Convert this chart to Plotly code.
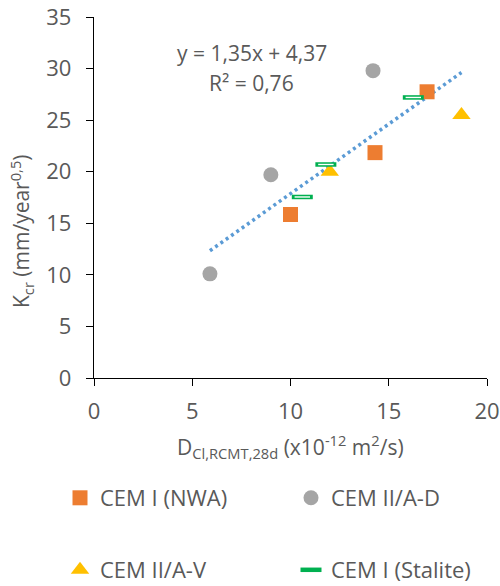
import plotly.graph_objects as go

# Data
nwa_x = [10.0, 14.3, 16.95]
nwa_y = [15.85, 21.85, 27.75]
ad_x = [5.9, 9.0, 14.2]
ad_y = [10.1, 19.7, 29.8]
av_x = [12.0, 18.7]
av_y = [20.0, 25.5]
st_x = [10.6, 11.8, 16.25]
st_y = [17.55, 20.7, 27.2]

trend_slope = 1.35
trend_intercept = 4.37
eq_text = "y = 1,35x + 4,37"
r2_text = "R² = 0,76"

x_ticks = [0, 5, 10, 15, 20]
y_ticks = [0, 5, 10, 15, 20, 25, 30, 35]

FONT = "Open Sans"
TXT = "#595959"
FS = 21
FS_TICK = 22
FS_LEG = 22

all_x = nwa_x + ad_x + av_x + st_x
tx = [min(all_x), max(all_x)]
ty = [trend_slope * v + trend_intercept for v in tx]

fig = go.Figure()

fig.add_trace(go.Scatter(x=tx, y=ty, mode="lines", showlegend=False,
                         line=dict(color="#5B9BD5", width=3.5, dash="3px,3.5px"),
                         hoverinfo="skip"))
fig.add_trace(go.Scatter(x=nwa_x, y=nwa_y, mode="markers", name="CEM I (NWA)",
                         marker=dict(symbol="square", size=15, color="#ED7D31"),
                         legend="legend"))
fig.add_trace(go.Scatter(x=ad_x, y=ad_y, mode="markers", name="CEM II/A-D",
                         marker=dict(symbol="circle", size=15, color="#A5A5A5"),
                         legend="legend2"))
fig.add_trace(go.Scatter(x=av_x, y=av_y, mode="markers", name="CEM II/A-V",
                         marker=dict(symbol="triangle-up", size=16, color="#FFC000"),
                         legend="legend3"))
fig.add_trace(go.Scatter(x=st_x, y=st_y, mode="markers", name="CEM I (Stalite)",
                         marker=dict(symbol="line-ew", size=15,
                                     line=dict(color="#00B050", width=4.5)),
                         legend="legend4"))
fig.add_trace(go.Scatter(x=st_x, y=st_y, mode="markers", showlegend=False,
                         marker=dict(symbol="line-ew", size=11,
                                     line=dict(color="white", width=1.4)),
                         hoverinfo="skip"))

axis_common = dict(showgrid=False, zeroline=False, showline=True, automargin=False,
                   linecolor="black", linewidth=1.3, ticks="outside",
                   ticklen=7, tickwidth=1.3, tickcolor="black",
                   tickfont=dict(family=FONT, size=FS_TICK, color=TXT))

fig.update_xaxes(range=[0, 20], tickvals=x_ticks, ticklabelstandoff=6, **axis_common)
fig.update_yaxes(range=[0, 35], tickvals=y_ticks, ticklabelstandoff=10, **axis_common)

leg_common = dict(orientation="h", xref="container", yref="container",
                  xanchor="left", yanchor="middle",
                  font=dict(family=FONT, size=FS_LEG, color=TXT), bgcolor="rgba(0,0,0,0)")
col1, col2 = 60 / 500, 291 / 500
row1, row2 = 1 - 498 / 586, 1 - 570 / 586

fig.update_layout(
    width=500, height=586,
    margin=dict(l=94, r=13, t=17, b=208),
    paper_bgcolor="white", plot_bgcolor="white",
    font=dict(family=FONT, size=FS, color=TXT),
    legend=dict(x=col1, y=row1, **leg_common),
    legend2=dict(x=col2, y=row1, **leg_common),
    legend3=dict(x=col1, y=row2, **leg_common),
    legend4=dict(x=col2, y=row2, **leg_common),
    annotations=[
        dict(text=eq_text, x=0.402, y=0.900, xref="paper", yref="paper",
             showarrow=False, xanchor="center", yanchor="middle",
             font=dict(family=FONT, size=FS, color=TXT)),
        dict(text=r2_text, x=0.402, y=0.817, xref="paper", yref="paper",
             showarrow=False, xanchor="center", yanchor="middle",
             font=dict(family=FONT, size=FS, color=TXT)),
        dict(text="K<sub>cr</sub> (mm/year<sup>0,5</sup>)", x=-0.185, y=0.408,
             xref="paper", yref="paper", textangle=-90, showarrow=False,
             xanchor="center", yanchor="middle",
             font=dict(family=FONT, size=FS, color=TXT)),
        dict(text="D<sub>Cl,RCMT,28d</sub> (x10<sup>-12</sup> m<sup>2</sup>/s)",
             x=0.499, y=-0.19, xref="paper", yref="paper", showarrow=False,
             xanchor="center", yanchor="middle",
             font=dict(family=FONT, size=FS, color=TXT)),
    ],
)

fig.write_html("out.html")
